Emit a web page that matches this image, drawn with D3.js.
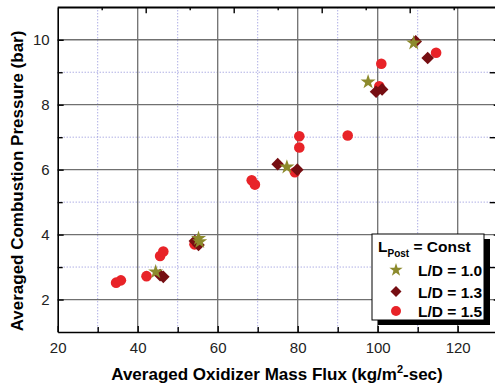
<!DOCTYPE html>
<html><head><meta charset="utf-8">
<script src="https://d3js.org/d3.v7.min.js"></script>
<style>body{margin:0;background:#fff}svg{display:block}</style>
</head><body>
<script>
// Data
const seriesNames = ["L/D = 1.0", "L/D = 1.3", "L/D = 1.5"];
const ld10x = [44.5, 55.2, 55.5, 77.3, 97.6, 109.0];
const ld10y = [2.85, 3.88, 3.78, 6.08, 8.70, 9.90];
const ld13x = [45.6, 46.4, 54.3, 55.2, 75.0, 79.9, 99.6, 101.1, 109.5, 112.5];
const ld13y = [2.75, 2.70, 3.80, 3.68, 6.17, 6.00, 8.40, 8.47, 9.95, 9.44];
const ld15x = [34.6, 35.8, 42.2, 45.6, 46.4, 54.2, 68.5, 69.3, 79.3, 80.4, 80.4, 92.5, 100.4, 100.9, 114.6];
const ld15y = [2.52, 2.59, 2.72, 3.34, 3.48, 3.70, 5.67, 5.54, 5.92, 6.68, 7.03, 7.05, 8.57, 9.26, 9.60];
const xTicks = [20, 40, 60, 80, 100, 120];
const yTicks = [2, 4, 6, 8, 10];
const xMinor = [30, 50, 70, 90, 110];
const yMinor = [3, 5, 7, 9];

const W = 495, H = 387;
const L = 57.7, T = 7.3, R = 497.7, B = 332;
const svg = d3.select("body").append("svg").attr("width", W).attr("height", H);
const x = d3.scaleLinear().domain([20, 130]).range([L, R]);
const y = d3.scaleLinear().domain([1, 11]).range([B, T]);

// minor dotted grid
const g = svg.append("g");
g.selectAll("line.mx").data(xMinor).join("line")
  .attr("x1", d => x(d)).attr("x2", d => x(d)).attr("y1", T).attr("y2", B)
  .attr("stroke", "#8a8ad8").attr("stroke-width", 1).attr("stroke-dasharray", "1,2");
g.selectAll("line.my").data(yMinor).join("line")
  .attr("y1", d => y(d)).attr("y2", d => y(d)).attr("x1", L).attr("x2", R)
  .attr("stroke", "#8a8ad8").attr("stroke-width", 1).attr("stroke-dasharray", "1,2");
// major grid
g.selectAll("line.Mx").data(xTicks.slice(1)).join("line")
  .attr("x1", d => x(d)).attr("x2", d => x(d)).attr("y1", T).attr("y2", B)
  .attr("stroke", "#707070").attr("stroke-width", 1.3);
g.selectAll("line.My").data(yTicks).join("line")
  .attr("y1", d => y(d)).attr("y2", d => y(d)).attr("x1", L).attr("x2", R)
  .attr("stroke", "#707070").attr("stroke-width", 1.3);

// axes (ticks inward)
const xAx = d3.axisBottom(x).tickValues(xTicks).tickSizeInner(-6).tickSizeOuter(0).tickPadding(10);
svg.append("g").attr("transform", `translate(0,${B})`).call(xAx);
const xMinAx = d3.axisBottom(x).tickValues(xMinor).tickSizeInner(-5).tickSizeOuter(0).tickFormat("");
svg.append("g").attr("transform", `translate(0,${B})`).call(xMinAx).select(".domain").remove();
const yAx = d3.axisLeft(y).tickValues(yTicks).tickSizeInner(-6).tickSizeOuter(0).tickPadding(8);
svg.append("g").attr("transform", `translate(${L},0)`).call(yAx);
const yMinAx = d3.axisLeft(y).tickValues(yMinor).tickSizeInner(-5).tickSizeOuter(0).tickFormat("");
svg.append("g").attr("transform", `translate(${L},0)`).call(yMinAx).select(".domain").remove();
// top axis: ticks every 11 units, alternating length
const topTicks = d3.range(31, 130, 11);
svg.append("g").attr("transform", `translate(0,${T})`)
  .call(d3.axisTop(x).tickValues(topTicks).tickSizeInner(-4).tickSizeOuter(0).tickFormat(""))
  .selectAll(".tick line").attr("y2", (d, i) => i % 2 ? 6 : 3);
// right axis
const rightTicks = d3.range(2, 11, 1);
svg.append("g").attr("transform", `translate(${R},0)`)
  .call(d3.axisRight(y).tickValues(rightTicks).tickSizeInner(-4).tickSizeOuter(0).tickFormat(""))
  .selectAll(".tick line").attr("x2", d => d % 2 ? -8 : -4);
svg.selectAll(".domain").attr("stroke", "#000").attr("stroke-width", 1.6);
svg.selectAll(".tick line").attr("stroke", "#000").attr("stroke-width", 1.4);
svg.selectAll(".tick text").attr("font-family", "Arial, 'Liberation Sans', sans-serif")
  .attr("font-size", 15).attr("fill", "#222");
svg.append("line").attr("x1", L).attr("x2", R).attr("y1", T).attr("y2", T).attr("stroke", "#000").attr("stroke-width", 1.6);
svg.append("line").attr("x1", R).attr("x2", R).attr("y1", T).attr("y2", B).attr("stroke", "#000").attr("stroke-width", 1.6);

// markers
const colStar = "#8c8a2c", colDia = "#760e12", colCirc = "#e82328";
const star = d3.symbol().type(d3.symbolStar).size(70);
const dia = d3.symbol().type(d3.symbolSquare).size(80);
const p13 = ld13x.map((v, i) => [v, ld13y[i]]);
const p15 = ld15x.map((v, i) => [v, ld15y[i]]);
const p10 = ld10x.map((v, i) => [v, ld10y[i]]);
svg.append("g").selectAll("circle").data(p15).join("circle")
  .attr("cx", d => x(d[0])).attr("cy", d => y(d[1])).attr("r", 5.3).attr("fill", colCirc);
svg.append("g").selectAll("path").data(p13).join("path")
  .attr("d", dia).attr("transform", d => `translate(${x(d[0])},${y(d[1])}) rotate(45)`).attr("fill", colDia);
svg.append("g").selectAll("path").data(p10).join("path")
  .attr("d", star).attr("transform", d => `translate(${x(d[0])},${y(d[1])})`).attr("fill", colStar);

// legend
const lg = svg.append("g");
lg.append("rect").attr("x", 378).attr("y", 239).attr("width", 112).attr("height", 86).attr("fill", "#000");
lg.append("rect").attr("x", 372).attr("y", 234).attr("width", 112).attr("height", 86)
  .attr("fill", "#fff").attr("stroke", "#000").attr("stroke-width", 1);
const ff = "Arial, 'Liberation Sans', sans-serif";
const tt = lg.append("text").attr("x", 378).attr("y", 252).attr("font-family", ff).attr("font-weight", "bold").attr("font-size", 15.5);
tt.append("tspan").text("L");
tt.append("tspan").attr("font-size", 10).attr("dy", 5).text("Post");
tt.append("tspan").attr("dy", -5).text(" = Const");
const rowsY = [270, 291.5, 311];
const cols = [colStar, colDia, colCirc];
seriesNames.forEach((s, i) => {
  if (i === 2) lg.append("circle").attr("cx", 396).attr("cy", rowsY[i]).attr("r", 5).attr("fill", cols[i]);
  else if (i === 1) lg.append("path").attr("d", d3.symbol().type(d3.symbolSquare).size(60)).attr("transform", `translate(396,${rowsY[i]}) rotate(45)`).attr("fill", cols[i]);
  else lg.append("path").attr("d", d3.symbol().type(d3.symbolStar).size(55)).attr("transform", `translate(396,${rowsY[i]})`).attr("fill", cols[i]);
  lg.append("text").attr("x", 418).attr("y", rowsY[i] + 6).attr("font-family", ff).attr("font-weight", "bold")
    .attr("font-size", 15.5).text(s);
});

// axis titles
const xt = svg.append("text").attr("x", 277).attr("y", 380).attr("text-anchor", "middle")
  .attr("font-family", ff).attr("font-weight", "bold").attr("font-size", 17);
xt.append("tspan").text("Averaged Oxidizer Mass Flux (kg/m");
xt.append("tspan").attr("font-size", 11).attr("dy", -7).text("2");
xt.append("tspan").attr("dy", 7).text("-sec)");
svg.append("text").attr("transform", "translate(23,181) rotate(-90)").attr("text-anchor", "middle")
  .attr("font-family", ff).attr("font-weight", "bold").attr("font-size", 17)
  .text("Averaged Combustion Pressure (bar)");
</script>
</body></html>
